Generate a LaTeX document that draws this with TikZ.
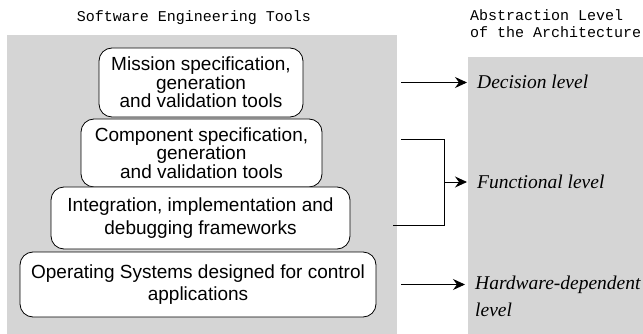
\documentclass[tikz,border=0pt]{standalone}
\usepackage{fontspec}
\usepackage{xcolor}
\usetikzlibrary{positioning, arrows.meta}
\newfontfamily\toolfont{Liberation Sans}
\newfontfamily\headfont{Liberation Mono}
\newfontfamily\levelfont{Liberation Serif}
\definecolor{panel_grey}{RGB}{213, 213, 213}

\tikzset{
	toolbox/.style={draw=black, fill=white, line width=0.8pt, rounded corners=13pt, align=center, inner sep=0pt, font=\toolfont\fontsize{19}{18.5}\selectfont},
	widebox/.style={toolbox, font=\toolfont\fontsize{19}{22.5}\selectfont},
	levelarrow/.style={-{Stealth[length=12pt, width=11pt, inset=4pt]}, line width=0.9pt},
	leveltext/.style={anchor=west, inner sep=0pt, align=left, font=\levelfont\itshape\fontsize{19.5}{27}\selectfont},
	headtext/.style={inner sep=0pt, align=left, font=\headfont\fontsize{15}{17}\selectfont}
}

\begin{document}
\begin{tikzpicture}[x=1pt, y=-1pt]
				\useasboundingbox (0,0) rectangle (643,334);
				% grey panels
				\node[fill=panel_grey, inner sep=0pt, outer sep=0pt, minimum width=390pt, minimum height=299pt] (tools) at (202,184.5) {};
				\node[fill=panel_grey, inner sep=0pt, outer sep=0pt, minimum width=175pt, minimum height=277pt] (levels) at (555.5,195.5) {};
				
				% headings
				\node[headtext] (toolhead) at (194,18) {Software Engineering Tools};
				\node[headtext, anchor=west] (levelhead) at (470,24) {Abstraction Level\\of the Architecture};
				
				
				% tool layers
				\node[toolbox, minimum width=204pt, minimum height=69pt] (mission) at (201,82.5) {Mission specification,\\generation\\and validation tools};
				\node[toolbox, minimum width=241pt, minimum height=68pt] (component) at (201.5,153) {Component specification,\\generation\\and validation tools};
				\node[widebox, minimum width=299pt, minimum height=62pt] (integration) at (200.5,218) {Integration, implementation and\\debugging frameworks};
				\node[widebox, minimum width=356pt, minimum height=65pt] (os) at (198,284.5) {Operating Systems designed for control\\applications};
				
				% levels
				\node[leveltext] (decision) at (477,82) {Decision level};
				\node[leveltext] (functional) at (477,182) {Functional level};
				\node[leveltext] (hardware) at (475,296.5) {Hardware-dependent\\level};
				
				% arrows
				\coordinate (brtop) at (444,139);
				\coordinate (brbot) at (444,225);
				\draw[levelarrow, shorten <=4pt, shorten >=10pt] (tools.east |- mission) -- (decision.west |- mission);
				\draw[line width=0.8pt, shorten <=4pt, shorten >=-4pt] (tools.east |- brtop) -- (brtop) -- (brbot) -- (tools.east |- brbot);
				\draw[levelarrow, shorten >=10pt] (brtop |- functional) -- (functional.west);
				\draw[levelarrow, shorten <=4pt, shorten >=10pt] (tools.east |- os) -- (hardware.west |- os);
				
\end{tikzpicture}
\end{document}
